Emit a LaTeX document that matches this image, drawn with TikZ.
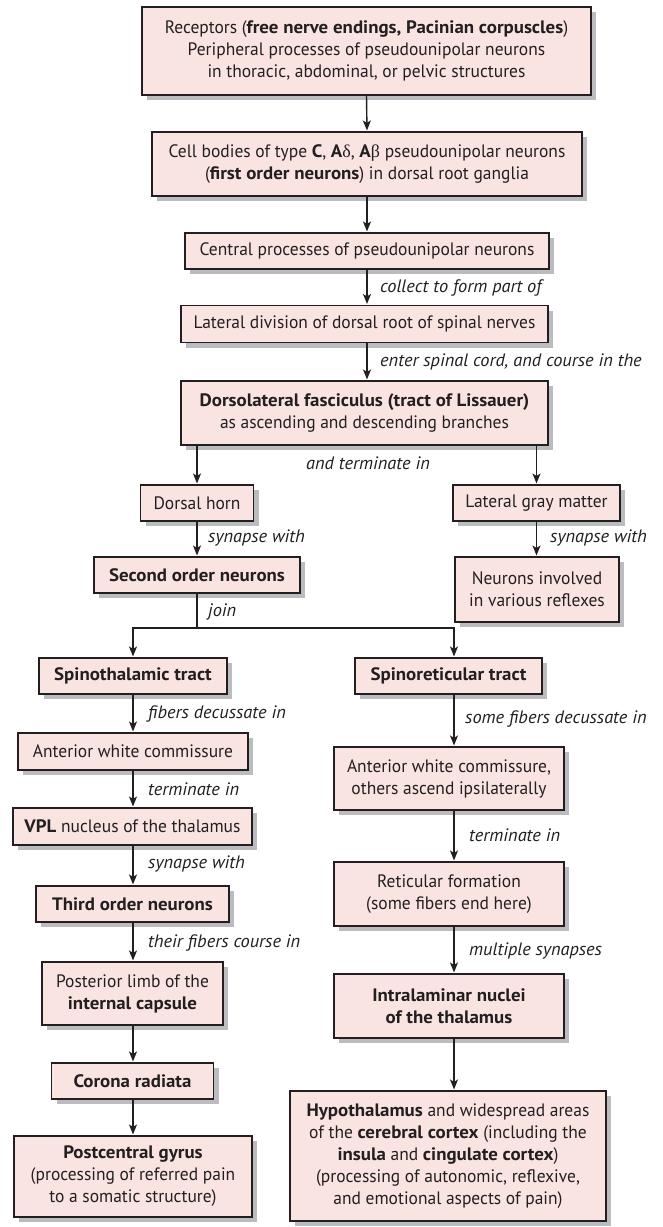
\documentclass[tikz,border=0pt]{standalone}
\usepackage{fontspec}
\setmainfont{PT Sans}[UprightFeatures={FakeStretch=0.97}, BoldFeatures={FakeStretch=1.05}, ItalicFeatures={FakeStretch=1.02}]
\newfontfamily\grk{Liberation Serif}
\usetikzlibrary{arrows.meta,shadows}
\definecolor{boxfill}{RGB}{250,228,226}
\definecolor{boxline}{RGB}{35,31,32}
\definecolor{shadowgray}{RGB}{186,188,191}
\begin{document}
\begin{tikzpicture}[x=1pt,y=-1pt,
  bx/.style={draw=boxline, line width=1.1pt, fill=boxfill, inner sep=0pt, align=center,
    text=boxline, font=\fontsize{18}{22}\selectfont,
    general shadow={fill=shadowgray, shadow xshift=5pt, shadow yshift=-5pt}},
  lab/.style={font=\fontsize{18}{22}\selectfont\itshape, text=boxline, anchor=west, inner sep=0pt},
  arr/.style={-{Stealth[length=10pt,width=8pt,inset=2.5pt]}, line width=1.4pt, draw=boxline, shorten >=1pt},
  ln/.style={line width=1.4pt, draw=boxline}]
\useasboundingbox (0,0) rectangle (663,1227);
\fill[white] (0,0) rectangle (663,1227);

% main trunk
\node[bx, minimum width=449pt, minimum height=88pt] (rec) at (366.5,51)
  {Receptors (\textbf{free nerve endings, Pacinian corpuscles})\\Peripheral processes of pseudounipolar neurons\\in thoracic, abdominal, or pelvic structures};
\node[bx, minimum width=430pt, minimum height=64pt] (cell) at (367,164)
  {Cell bodies of type \textbf{C}, \textbf{A}{\grk δ}, \textbf{A}{\grk β} pseudounipolar neurons\\(\textbf{first order neurons}) in dorsal root ganglia};
\node[bx, minimum width=364pt, minimum height=36pt] (cen) at (367,251)
  {Central processes of pseudounipolar neurons};
\node[bx, minimum width=367pt, minimum height=37pt] (lat) at (364.5,324)
  {Lateral division of dorsal root of spinal nerves};
\node[bx, minimum width=367pt, minimum height=64pt] (dl) at (364.5,413)
  {\textbf{Dorsolateral fasciculus (tract of Lissauer)}\\as ascending and descending branches};

\node[bx, minimum width=113pt, minimum height=36pt] (dh) at (197,503) {Dorsal horn};
\node[bx, minimum width=167pt, minimum height=36pt] (lgm) at (536.5,503) {Lateral gray matter};
\node[bx, minimum width=206pt, minimum height=36pt] (son) at (197,575) {\textbf{Second order neurons}};
\node[bx, minimum width=164pt, minimum height=65pt] (niv) at (537,589.5) {Neurons involved\\in various reflexes};

% left column
\node[bx, minimum width=188pt, minimum height=36pt] (stt) at (133,676) {\textbf{Spinothalamic tract}};
\node[bx, minimum width=230pt, minimum height=37pt] (awcl) at (133,751.5) {Anterior white commissure};
\node[bx, minimum width=239pt, minimum height=37pt] (vpl) at (132.5,826.5) {\textbf{VPL} nucleus of the thalamus};
\node[bx, minimum width=193pt, minimum height=36pt] (ton) at (132.5,904) {\textbf{Third order neurons}};
\node[bx, minimum width=181pt, minimum height=63pt] (plic) at (132.5,993.5) {Posterior limb of the\\\textbf{internal capsule}};
\node[bx, minimum width=162pt, minimum height=36pt] (cor) at (132.5,1081) {\textbf{Corona radiata}};
\node[bx, minimum width=238pt, minimum height=81pt] (post) at (133,1176.5)
  {\textbf{Postcentral gyrus}\\(processing of referred pain\\to a somatic structure)};

% right column
\node[bx, minimum width=187pt, minimum height=36pt] (srt) at (448.5,676) {\textbf{Spinoreticular tract}};
\node[bx, minimum width=230pt, minimum height=63pt] (awcr) at (449,778.5) {Anterior white commissure,\\others ascend ipsilaterally};
\node[bx, minimum width=230pt, minimum height=64pt] (ret) at (449,894) {Reticular formation\\(some fibers end here)};
\node[bx, minimum width=230pt, minimum height=64pt] (intra) at (449,1006) {\textbf{Intralaminar nuclei}\\\textbf{of the thalamus}};
\node[bx, minimum width=316pt, minimum height=130pt] (hypo) at (448,1156)
  {\textbf{Hypothalamus} and widespread areas\\of the \textbf{cerebral cortex} (including the\\\textbf{insula} and \textbf{cingulate cortex})\\(processing of autonomic, reflexive,\\and emotional aspects of pain)};

% connectors
\draw[arr] (rec.south) -- (cell.north);
\draw[arr] (cell.south) -- (cen.north);
\draw[arr] (cen.south) -- (cen.south |- lat.north);
\draw[arr] (cen.south |- lat.south) -- (cen.south |- dl.north);
\draw[arr] (dh.north |- dl.south) -- (dh.north);
\draw[arr] (lgm.north |- dl.south) -- (lgm.north);
\draw[arr] (dh.south) -- (dh.south |- son.north);
\draw[arr] (lgm.south) -- (lgm.south |- niv.north);
\coordinate (jn) at (197,628);
\draw[ln] (son.south) -- (son.south |- jn);
\draw[arr] (son.south |- jn) -| (stt.north);
\draw[arr] (son.south |- jn) -| ([xshift=5.5pt]srt.north);
\draw[arr] (stt.south) -- (awcl.north);
\draw[arr] (awcl.south) -- (awcl.south |- vpl.north);
\draw[arr] (awcl.south |- vpl.south) -- (awcl.south |- ton.north);
\draw[arr] (awcl.south |- ton.south) -- (awcl.south |- plic.north);
\draw[arr] (awcl.south |- plic.south) -- (awcl.south |- cor.north);
\draw[arr] (awcl.south |- cor.south) -- (awcl.south |- post.north);
\draw[arr] ([xshift=5.5pt]srt.south) -- ([xshift=5pt]awcr.north);
\draw[arr] ([xshift=5pt]awcr.south) -- ([xshift=5pt]ret.north);
\draw[arr] ([xshift=5pt]ret.south) -- ([xshift=5pt]intra.north);
\draw[arr] ([xshift=5pt]intra.south) -- ([xshift=6pt]hypo.north);

% labels
\node[lab] (l1) at (380,288) {collect to form part of};
\node[lab] (l2) at (380,362) {enter spinal cord, and course in the};
\node[lab, anchor=center] (l3) at (368,463) {and terminate in};
\node[lab] (l4) at (208,538) {synapse with};
\node[lab] (l5) at (550,538) {synapse with};
\node[lab] (l6) at (208,612) {join};
\node[lab] (l7) at (148,714) {fibers decussate in};
\node[lab] (l8) at (465,719) {some fibers decussate in};
\node[lab] (l9) at (148,789) {terminate in};
\node[lab] (l10) at (469,835) {terminate in};
\node[lab] (l11) at (148,864) {synapse with};
\node[lab] (l12) at (148,943) {their fibers course in};
\node[lab] (l13) at (469,951) {multiple synapses};
\end{tikzpicture}
\end{document}
